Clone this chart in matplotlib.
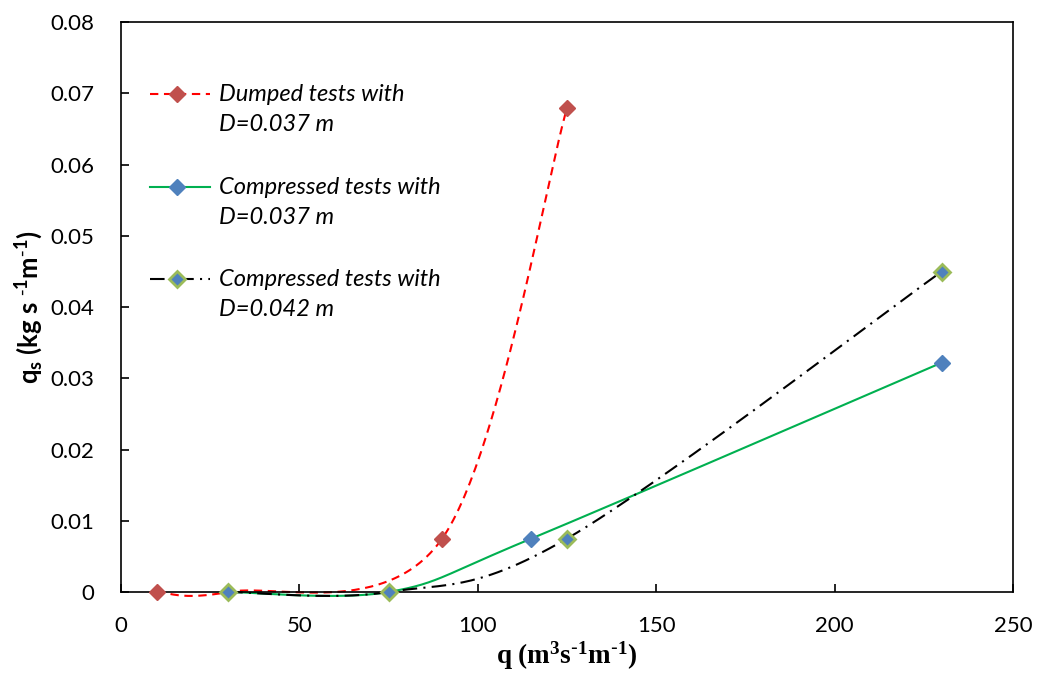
import numpy as np
import matplotlib
matplotlib.use("Agg")
import matplotlib.pyplot as plt

# data
dumped_q = [10, 30, 90, 125]
dumped_qs = [0.0, 0.0, 0.0075, 0.068]

comp37_q = [30, 75, 115, 230]
comp37_qs = [0.0, 0.0, 0.0075, 0.0322]

comp42_q = [30, 75, 125, 230]
comp42_qs = [0.0, 0.0, 0.0075, 0.045]

labels = [("Dumped tests with", "D=0.037 m"),
          ("Compressed tests with", "D=0.037 m"),
          ("Compressed tests with", "D=0.042 m")]

x_ticks = [0, 50, 100, 150, 200, 250]
y_ticks = [0, 0.01, 0.02, 0.03, 0.04, 0.05, 0.06, 0.07, 0.08]


def smooth(xs, ys, n=60):
    # excel-like smoothed line: cubic bezier, control points at +-1/6 of neighbour chord
    p = np.column_stack([xs, ys]).astype(float)
    ext = np.vstack([p[0], p, p[-1]])
    out = []
    t = np.linspace(0, 1, n)[:, None]
    for i in range(len(p) - 1):
        p0, p3 = ext[i + 1], ext[i + 2]
        c1 = p0 + (ext[i + 2] - ext[i]) / 6
        c2 = p3 - (ext[i + 3] - ext[i + 1]) / 6
        seg = ((1 - t) ** 3) * p0 + 3 * ((1 - t) ** 2) * t * c1 + 3 * (1 - t) * t ** 2 * c2 + t ** 3 * p3
        out.append(seg)
    out = np.vstack(out)
    return out[:, 0], out[:, 1]


plt.rcParams['mathtext.default'] = 'regular'

fig = plt.figure(figsize=(10.39, 6.75), dpi=100)
ax = fig.add_axes([0.1165, 0.123, 0.8585, 0.844])

red_ls = (0, (4, 2.7))
blk_ls = (0, (7, 3, 1, 3))

styles = [
    dict(color='#FF0000', ls=red_ls, mfc='#C0504D', mec='#C0504D', mew=1, ms=8.5),
    dict(color='#00B050', ls='-', mfc='#4F81BD', mec='#4F81BD', mew=1, ms=8.5),
    dict(color='black', ls=blk_ls, mfc='#4F81BD', mec='#9BBB59', mew=2, ms=8),
]
series = [(dumped_q, dumped_qs), (comp37_q, comp37_qs), (comp42_q, comp42_qs)]

for (xs, ys), st in zip(series, styles):
    sx, sy = smooth(xs, ys)
    ax.plot(sx, sy, color=st['color'], lw=1.5, ls=st['ls'], clip_on=False)
for (xs, ys), st in zip(series, styles):
    ax.plot(xs, ys, 'D', mfc=st['mfc'], mec=st['mec'], mew=st['mew'], ms=st['ms'],
            zorder=4, clip_on=False)

# legend drawn by hand (Excel style: handle at first text line)
leg_y = [0.8737, 0.7105, 0.5491]
line_gap = 0.053
for y, st, (l1, l2) in zip(leg_y, styles, labels):
    ax.plot([0.0325, 0.0998], [y, y], transform=ax.transAxes, color=st['color'], lw=1.5,
            ls=st['ls'], clip_on=False)
    ax.plot([0.0628], [y], 'D', transform=ax.transAxes, mfc=st['mfc'], mec=st['mec'],
            mew=st['mew'], ms=st['ms'], clip_on=False)
    ax.text(0.1099, y, l1, transform=ax.transAxes, va='center', ha='left',
            family='Lato', style='italic', size=17)
    ax.text(0.1099, y - line_gap, l2, transform=ax.transAxes, va='center', ha='left',
            family='Lato', style='italic', size=17)

ax.set_xlim(0, 250)
ax.set_ylim(0, 0.08)
ax.set_xticks(x_ticks)
ax.set_yticks(y_ticks)
ax.set_yticklabels(['0' if v == 0 else f'{v:.2f}' for v in y_ticks])
ax.tick_params(direction='in', length=6, width=1.2, labelsize=16, pad=19)
ax.tick_params(axis='x', pad=17)
for lab in ax.get_xticklabels() + ax.get_yticklabels():
    lab.set_family('Lato')
for s in ax.spines.values():
    s.set_linewidth(1.2)

ax.set_xlabel(r'q (m$^{3}$s$^{\text{-}1}$m$^{\text{-}1}$)', family='Liberation Serif',
              weight='bold', size=19.5, labelpad=3)
ax.set_ylabel(r'q$_{s}$ (kg s $^{\text{-}1}$m$^{\text{-}1}$)', family='Lato',
              weight='bold', size=18.5, labelpad=4)

fig.savefig('out.png', dpi=100)
